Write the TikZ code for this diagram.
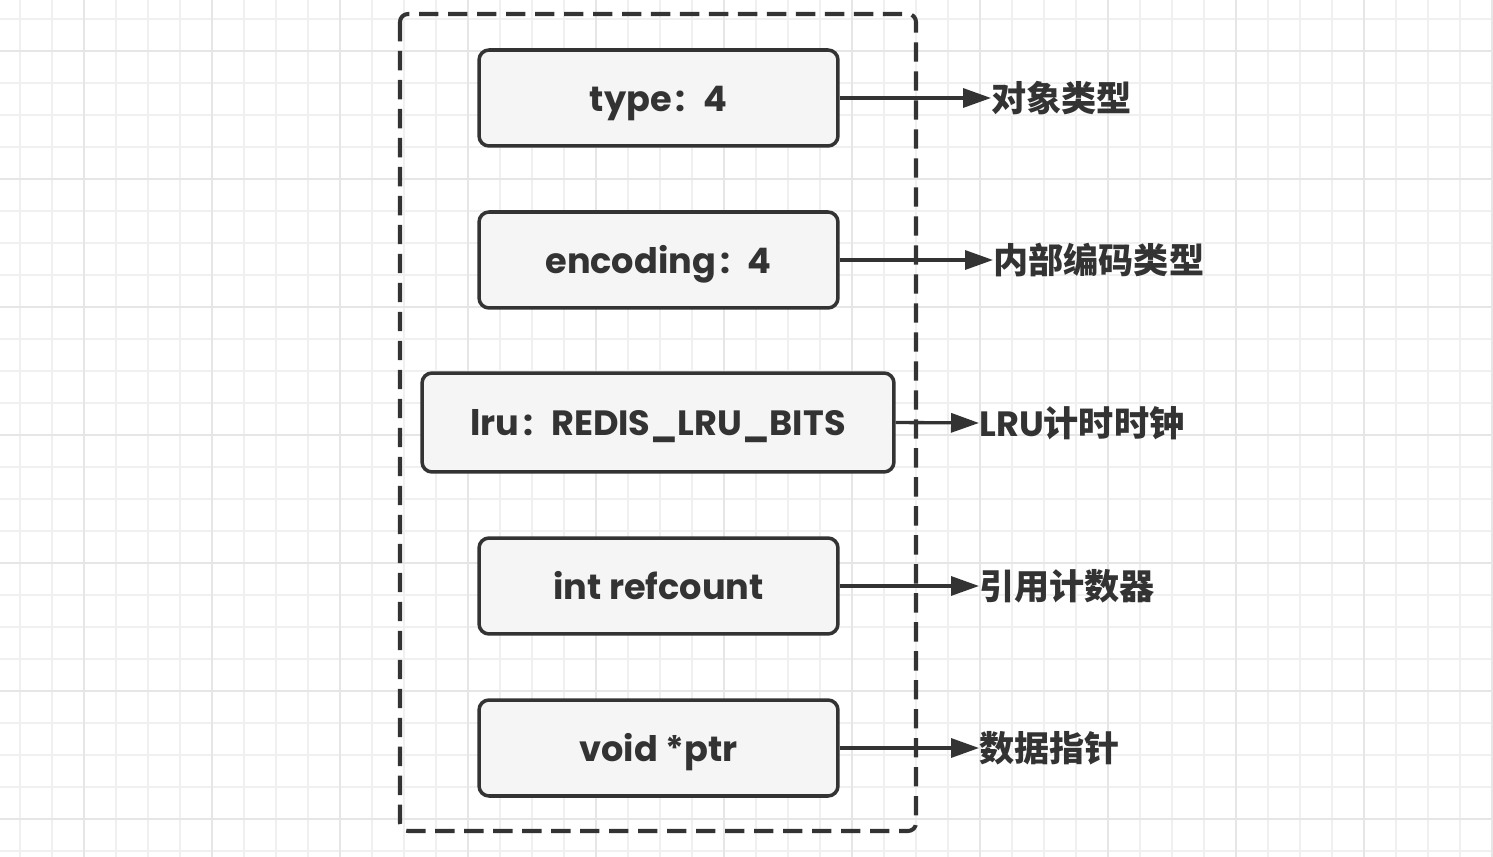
\documentclass[tikz,border=0pt]{standalone}
\usepackage{fontspec}
\newfontfamily\cjk{Noto Sans CJK SC}
\newfontfamily\boxfont{Poppins}
\usetikzlibrary{arrows.meta}
\definecolor{ink}{HTML}{333333}
\definecolor{boxfill}{HTML}{F5F5F5}
\definecolor{gridminor}{HTML}{F0F0F0}
\definecolor{gridmajor}{HTML}{E6E6E6}
\newcommand{\fieldsep}{\hspace{0.12em}:\hspace{0.5em}}
\tikzset{
  field/.style={draw=ink, fill=boxfill, line width=2pt, rounded corners=0.2cm,
    minimum width=7.18cm, minimum height=1.92cm, text=ink,
    text height=15pt, text depth=0pt,
    font=\boxfont\bfseries\fontsize{20}{24}\selectfont},
  note/.style={anchor=west, inner sep=0pt, text=ink,
    font=\cjk\bfseries\fontsize{20}{24}\selectfont},
  pointer/.style={draw=ink, line width=1.9pt,
    -{Triangle[length=0.56cm,width=0.38cm]}},
}
\begin{document}
\begin{tikzpicture}[x=0.02cm,y=-0.02cm]
\useasboundingbox[fill=white] (0,0) rectangle (1493,857);

% background grid
\foreach \gx in {20,52,...,1492} \draw[gridminor,line width=0.6pt] (\gx,0) -- (\gx,857);
\foreach \gy in {19,51,...,856} \draw[gridminor,line width=0.6pt] (0,\gy) -- (1493,\gy);
\foreach \gx in {84,212,...,1492} \draw[gridmajor,line width=0.6pt] (\gx,0) -- (\gx,857);
\foreach \gy in {51,179,...,856} \draw[gridmajor,line width=0.6pt] (0,\gy) -- (1493,\gy);

% fields of the object
\node[field] (type) at (658.5,98) {type\fieldsep 4};
\node[field] (enc) at (658.5,260) {encoding\fieldsep 4};
\node[field, minimum width=9.44cm, minimum height=1.98cm] (lru) at (658,422.5) {lru\fieldsep REDIS\_LRU\_BITS};
\node[field] (ref) at (658.5,586) {int refcount};
\node[field] (ptr) at (658.5,748) {void *ptr};

% labels
\node[note] (ltype) at (991,98) {对象类型};
\node[note] (lenc) at (993,260) {内部编码类型};
\node[note] (llru) at (979,423) {{\boxfont\bfseries LRU}计时时钟};
\node[note] (lref) at (979,586) {引用计数器};
\node[note] (lptr) at (979,748) {数据指针};

\draw[pointer] (type.east) -- (ltype.west);
\draw[pointer] (enc.east) -- (lenc.west);
\draw[pointer] (lru.east) -- (llru.west);
\draw[pointer] (ref.east) -- (lref.west);
\draw[pointer] (ptr.east) -- (lptr.west);

% dashed frame
\draw[ink, line width=2.3pt, dash pattern=on 11pt off 5.5pt, rounded corners=0.16cm]
  (400,14) rectangle (916,831);
\end{tikzpicture}
\end{document}
